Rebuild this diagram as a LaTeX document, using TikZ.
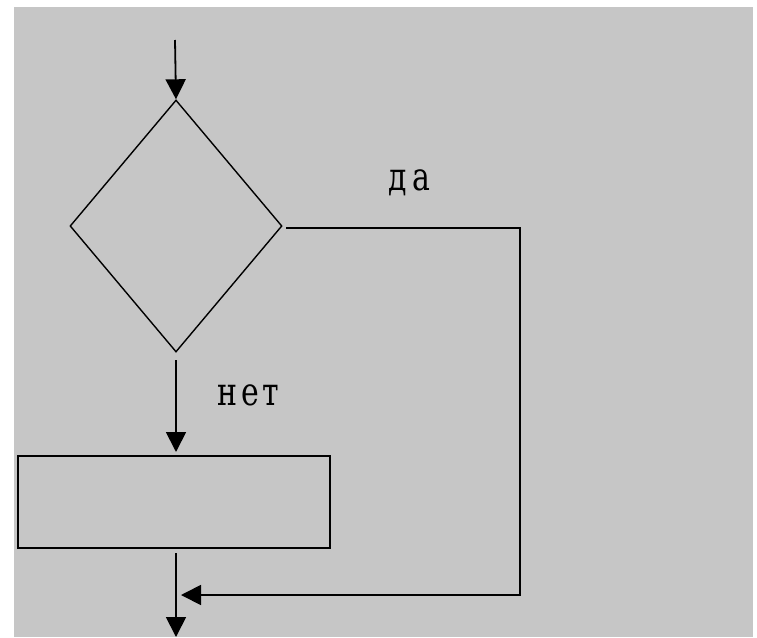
\documentclass[tikz,border=0pt]{standalone}
\usepackage{fontspec}
\newfontfamily\lblfont{DejaVu Serif}
\usetikzlibrary{shapes.geometric,arrows.meta}
\definecolor{bggray}{HTML}{C6C6C6}
\tikzset{
  dec/.style={draw=black, line width=1.4pt, shape=diamond, minimum width=212pt, minimum height=252pt, inner sep=0pt, aspect=0.84},
  proc/.style={draw=black, line width=1.8pt, minimum width=312pt, minimum height=92pt, inner sep=0pt},
  conn/.style={draw=black, line width=1.8pt},
  arr/.style={conn, -{Triangle[length=20pt,width=20pt]}},
  lbl/.style={font=\lblfont\fontsize{30}{30}\selectfont, inner sep=0pt, yscale=1.3}
}
\begin{document}
\begin{tikzpicture}[x=1pt,y=-1pt]
\useasboundingbox (0,0) rectangle (757,637);
\fill[white] (0,0) rectangle (757,637);
\fill[bggray] (14,7) rectangle (753,637);
\coordinate (start) at (175,40);
\node[dec] (d) at (176,226) {};
\node[proc] (p) at (174,502) {};
\coordinate (endpt) at (176,637);
\coordinate (c1) at (520,228);
\coordinate (c2) at (520,595);
\coordinate (join) at (181,595);
\coordinate (ystart) at (286,228);
\coordinate (nstart) at (176,360);
\coordinate (ntip) at (176,452);
\coordinate (pout) at (176,553);
\draw[arr] (start) -- (d.north);
\draw[arr] (nstart) -- (ntip);
\draw[arr] (pout) -- (endpt);
\draw[arr] (ystart) -- (c1) -- (c2) -- (join);
\node[lbl, anchor=base west] (yes) at (388,190) {д\kern6pt а};
\node[lbl, anchor=base west] (no) at (217,405) {н\kern4pt е\kern4pt т};
\end{tikzpicture}
\end{document}
